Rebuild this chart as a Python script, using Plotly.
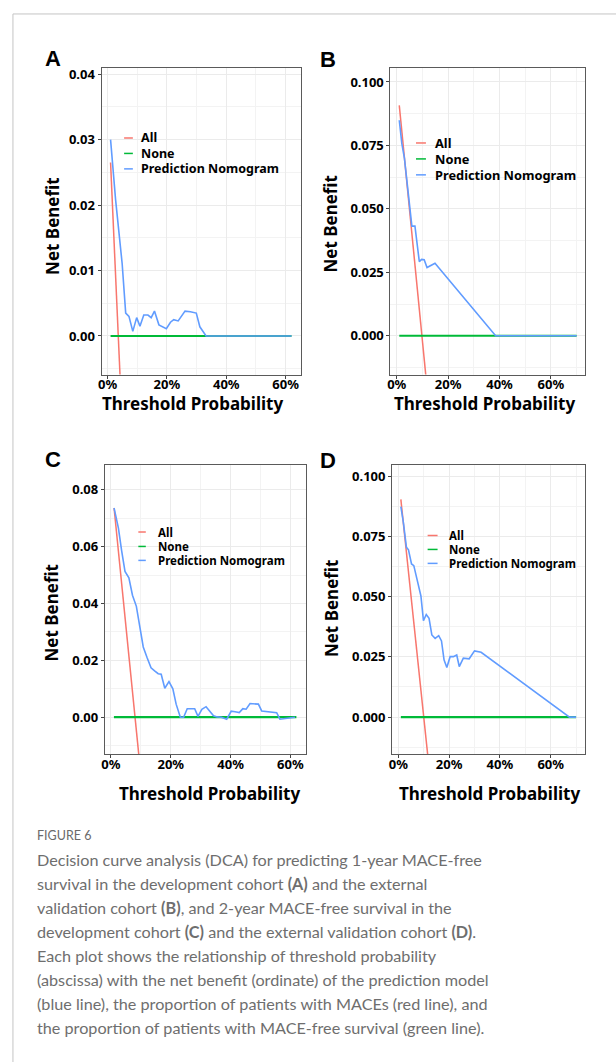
import plotly.graph_objects as go

W, H = 616, 1062


def px(x):
    return x / W


def py(y):
    return 1 - y / H


# ---------------- data ----------------
series_names = ["All", "None", "Prediction Nomogram"]
series_colors = ["#F8766D", "#00BA38", "#619CFF"]

# Panel A: 1-year, development cohort
a_all_x = [0.01, 0.06]
a_all_y = [0.0265, -0.0245]
a_none_x = [0.01, 0.62]
a_none_y = [0.0, 0.0]
a_model_x = [0.010, 0.027, 0.049, 0.061, 0.072, 0.085, 0.098, 0.109, 0.122, 0.136,
             0.147, 0.158, 0.173, 0.186, 0.198, 0.212, 0.223, 0.238, 0.261, 0.279,
             0.299, 0.311, 0.332, 0.620]
a_model_y = [0.0300, 0.0208, 0.0111, 0.0035, 0.0030, 0.0007, 0.0028, 0.0015, 0.0032, 0.0032,
             0.0028, 0.0038, 0.0017, 0.0014, 0.0011, 0.0021, 0.0025, 0.0023, 0.0038, 0.0037,
             0.0035, 0.0014, 0.0000, 0.0000]

# Panel B: 1-year, external validation cohort
b_all_x = [0.01, 0.125]
b_all_y = [0.0908, -0.0277]
b_none_x = [0.01, 0.70]
b_none_y = [0.0, 0.0]
b_model_x = [0.010, 0.020, 0.030, 0.040, 0.050, 0.059, 0.071, 0.088, 0.097, 0.107,
             0.118, 0.149, 0.385, 0.700]
b_model_y = [0.0849, 0.0757, 0.0700, 0.0610, 0.0520, 0.0432, 0.0432, 0.0292, 0.0301, 0.0300,
             0.0269, 0.0286, 0.0000, 0.0000]

# Panel C: 2-year, development cohort
c_all_x = [0.0105, 0.12]
c_all_y = [0.0736, -0.0414]
c_none_x = [0.01, 0.62]
c_none_y = [0.0, 0.0]
c_model_x = [0.0105, 0.025, 0.036, 0.047, 0.060, 0.072, 0.085, 0.096, 0.108, 0.121,
             0.134, 0.146, 0.158, 0.168, 0.180, 0.194, 0.207, 0.218, 0.232, 0.243,
             0.255, 0.269, 0.280, 0.291, 0.304, 0.318, 0.331, 0.343, 0.355, 0.369,
             0.387, 0.402, 0.415, 0.429, 0.441, 0.452, 0.465, 0.480, 0.493, 0.504,
             0.526, 0.554, 0.565, 0.581, 0.615]
c_model_y = [0.0736, 0.0665, 0.0584, 0.0513, 0.0490, 0.0429, 0.0390, 0.0315, 0.0247, 0.0209,
             0.0174, 0.0163, 0.0153, 0.0151, 0.0102, 0.0125, 0.0100, 0.0046, 0.0000, 0.0000,
             0.0030, 0.0030, 0.0030, 0.0003, 0.0028, 0.0037, 0.0022, 0.0005, 0.0001, 0.0000,
             -0.0007, 0.0021, 0.0019, 0.0016, 0.0030, 0.0028, 0.0048, 0.0048, 0.0046, 0.0022,
             0.0020, 0.0016, -0.0007, -0.0004, 0.0000]

# Panel D: 2-year, external validation cohort
d_all_x = [0.01, 0.13]
d_all_y = [0.0904, -0.0300]
d_none_x = [0.01, 0.70]
d_none_y = [0.0, 0.0]
d_model_x = [0.010, 0.020, 0.032, 0.040, 0.052, 0.061, 0.073, 0.089, 0.099, 0.110,
             0.121, 0.132, 0.145, 0.159, 0.170, 0.180, 0.191, 0.204, 0.217, 0.230,
             0.240, 0.256, 0.279, 0.300, 0.326, 0.674, 0.700]
d_model_y = [0.0874, 0.0808, 0.0705, 0.0695, 0.0636, 0.0629, 0.0575, 0.0503, 0.0400, 0.0426,
             0.0410, 0.0341, 0.0327, 0.0338, 0.0316, 0.0238, 0.0206, 0.0251, 0.0251, 0.0258,
             0.0210, 0.0245, 0.0242, 0.0275, 0.0269, 0.0000, 0.0000]

x_tick_vals = [0, 0.2, 0.4, 0.6]
x_tick_text = ["0%", "20%", "40%", "60%"]
panel_letters = ["A", "B", "C", "D"]

caption_head = "FIGURE 6"
caption_lines = [
    "Decision curve analysis (DCA) for predicting 1-year MACE-free",
    "survival in the development cohort <b>(A)</b> and the external",
    "validation cohort <b>(B)</b>, and 2-year MACE-free survival in the",
    "development cohort <b>(C)</b> and the external validation cohort <b>(D)</b>.",
    "Each plot shows the relationship of threshold probability",
    "(abscissa) with the net benefit (ordinate) of the prediction model",
    "(blue line), the proportion of patients with MACEs (red line), and",
    "the proportion of patients with MACE-free survival (green line).",
]

# ---------------- layout geometry (pixels) ----------------
panels = [
    dict(box=(99, 299, 64.5, 372), xr=[-0.0205, 0.6505], yr=[-0.0059, 0.0409],
         dt=0.01, mdt=0.005, fmt=".2f",
         data=[(a_all_x, a_all_y), (a_none_x, a_none_y), (a_model_x, a_model_y)],
         letter=(50.5, 54.5), ytitle=(49, 223), xtitle=(190, 401),
         leg=dict(sw=(121.7, 130.5), tx=136.5, rows=(134.5, 150, 165.5), fs=12.5)),
    dict(box=(389.3, 585.3, 64.5, 372), xr=[-0.0245, 0.7345], yr=[-0.0153, 0.1054],
         dt=0.025, mdt=0.0125, fmt=".3f",
         data=[(b_all_x, b_all_y), (b_none_x, b_none_y), (b_model_x, b_model_y)],
         letter=(326.5, 55.5), ytitle=(329, 221), xtitle=(484, 401),
         leg=dict(sw=(415, 425), tx=432.5, rows=(139.5, 155.5, 171.5), fs=12.8)),
    dict(box=(102.3, 304, 462.5, 753), xr=[-0.0205, 0.6505], yr=[-0.0130, 0.0888],
         dt=0.02, mdt=0.01, fmt=".2f",
         data=[(c_all_x, c_all_y), (c_none_x, c_none_y), (c_model_x, c_model_y)],
         letter=(50, 457.5), ytitle=(49, 611), xtitle=(208, 792),
         leg=dict(sw=(136, 143.5), tx=154, rows=(530, 544.5, 558.5), fs=11.5)),
    dict(box=(391, 584.7, 462.5, 753), xr=[-0.0245, 0.7345], yr=[-0.0154, 0.1048],
         dt=0.025, mdt=0.0125, fmt=".3f",
         data=[(d_all_x, d_all_y), (d_none_x, d_none_y), (d_model_x, d_model_y)],
         letter=(327, 458.5), ytitle=(330, 607), xtitle=(488.5, 792),
         leg=dict(sw=(426.7, 436.7), tx=446.5, rows=(533.5, 547.5, 561.5), fs=11.5)),
]

FONT = "Noto Sans"
fig = go.Figure()
annotations = []
shapes = []
layout = {}

for i, p in enumerate(panels):
    k = "" if i == 0 else str(i + 1)
    xa, ya = "x" + k, "y" + k
    for (xs, ys), name, col, lw in zip(p["data"], series_names, series_colors, [1.5, 2.2, 1.6]):
        fig.add_trace(go.Scatter(x=xs, y=ys, mode="lines", name=name,
                                 line=dict(color=col, width=lw), showlegend=False,
                                 xaxis=xa, yaxis=ya))
    x0, x1, y0, y1 = p["box"]
    common = dict(showline=True, mirror=True, linecolor="#5a5a5a", linewidth=1,
                  ticks="outside", ticklen=3, tickwidth=1, tickcolor="#444",
                  showgrid=True, gridcolor="#EBEBEB", gridwidth=1, zeroline=False,
                  tickfont=dict(family=FONT, size=13, color="black", weight="bold"))
    layout["xaxis" + k] = dict(domain=[px(x0), px(x1)], range=p["xr"], anchor=ya,
                               tickvals=x_tick_vals, ticktext=x_tick_text,
                               ticklabelstandoff=-5,
                               minor=dict(dtick=0.1, tick0=0, showgrid=True,
                                          gridcolor="#F3F3F3", gridwidth=1),
                               **common)
    layout["yaxis" + k] = dict(domain=[py(y1), py(y0)], range=p["yr"], anchor=xa,
                               dtick=p["dt"], tick0=0, tickformat=p["fmt"],
                               minor=dict(dtick=p["mdt"], tick0=0, showgrid=True,
                                          gridcolor="#F3F3F3", gridwidth=1),
                               **common)
    lx, ly = p["letter"]
    annotations.append(dict(text="<b>%s</b>" % panel_letters[i], x=px(lx), y=py(ly),
                            xref="paper", yref="paper", showarrow=False,
                            xanchor="center", yanchor="middle",
                            font=dict(family="Liberation Sans", size=22, color="black")))
    tx, ty = p["ytitle"]
    annotations.append(dict(text="<b>Net Benefit</b>", x=px(tx), y=py(ty), textangle=-90,
                            xref="paper", yref="paper", showarrow=False,
                            xanchor="center", yanchor="middle",
                            font=dict(family=FONT, size=17, color="black")))
    tx, ty = p["xtitle"]
    annotations.append(dict(text="<b>Threshold Probability</b>", x=px(tx), y=py(ty),
                            xref="paper", yref="paper", showarrow=False,
                            xanchor="center", yanchor="middle",
                            font=dict(family=FONT, size=17, color="black")))
    lg = p["leg"]
    for name, col, ry in zip(series_names, series_colors, lg["rows"]):
        shapes.append(dict(type="line", xref="paper", yref="paper",
                           x0=px(lg["sw"][0]), x1=px(lg["sw"][1]), y0=py(ry), y1=py(ry),
                           line=dict(color=col, width=1.5)))
        annotations.append(dict(text="<b>%s</b>" % name, x=px(lg["tx"]), y=py(ry),
                                xref="paper", yref="paper", showarrow=False,
                                xanchor="left", yanchor="middle",
                                font=dict(family=FONT, size=lg["fs"], color="black")))

# page frame
shapes.append(dict(type="line", xref="paper", yref="paper", x0=px(10), x1=1,
                   y0=py(10), y1=py(10), line=dict(color="#C4C4C4", width=1)))
shapes.append(dict(type="line", xref="paper", yref="paper", x0=px(10), x1=px(10),
                   y0=py(10), y1=0, line=dict(color="#C4C4C4", width=1)))

# caption
annotations.append(dict(text=caption_head, x=px(32), y=py(835), xref="paper", yref="paper",
                        showarrow=False, xanchor="left", yanchor="middle",
                        font=dict(family="Lato", size=12.5, color="#6a6a6a")))
for j, line in enumerate(caption_lines):
    annotations.append(dict(text=line, x=px(32), y=py(859 + 24 * j), xref="paper", yref="paper",
                            showarrow=False, xanchor="left", yanchor="middle",
                            font=dict(family="Lato", size=16.2, color="#6e6e6e")))

fig.update_layout(width=W, height=H, margin=dict(l=0, r=0, t=0, b=0),
                  paper_bgcolor="white", plot_bgcolor="white",
                  annotations=annotations, shapes=shapes, **layout)

fig.write_html("out.html")
